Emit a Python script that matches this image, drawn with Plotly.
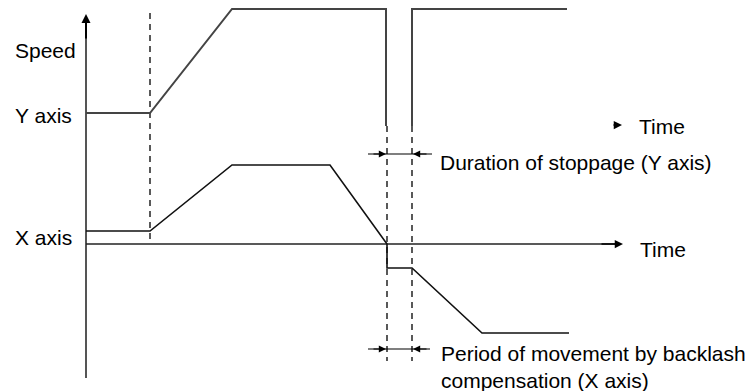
import plotly.graph_objects as go

# Diagram coordinates (time units horizontally, speed levels vertically; y grows downward)
y_profile_t = [86, 150, 232, 386, 386, None, 412, 412, 567]
y_profile_v = [113, 113, 9, 9, 126, None, 126, 9, 9]

x_profile_t = [86, 150, 232, 330, 387, 387, 412, 482, 569]
x_profile_v = [231, 231, 165, 165, 244, 268, 268, 333, 333]

# Event markers (dashed guides): time, start level, end level
guide_t = [150, 387, 412]
guide_top = [13, 126, 126]
guide_bottom = [243, 361, 361]

labels = ["Speed", "Y axis", "X axis"]
label_y = [50, 115, 237]

time_label = "Time"
stop_label = "Duration of stoppage (Y axis)"
backlash_label = "Period of movement by backlash<br>compensation (X axis)"

FONT = dict(family="Liberation Sans, Arial, sans-serif", size=21, color="black")

fig = go.Figure()

# dashed guides
gx, gy = [], []
for t, a, b in zip(guide_t, guide_top, guide_bottom):
    gx += [t, t, None]
    gy += [a, b, None]
fig.add_trace(go.Scatter(x=gx, y=gy, mode="lines",
                         line=dict(color="black", width=1.3, dash="6px,5px"),
                         hoverinfo="skip"))

# speed axis & X time axis
fig.add_trace(go.Scatter(x=[86, 86], y=[378, 20], mode="lines",
                         line=dict(color="#555555", width=2), hoverinfo="skip"))
fig.add_trace(go.Scatter(x=[86, 615], y=[244, 244], mode="lines",
                         line=dict(color="#222222", width=1.5), hoverinfo="skip"))

# Y profile
fig.add_trace(go.Scatter(x=y_profile_t, y=y_profile_v, mode="lines",
                         line=dict(color="#444444", width=2), hoverinfo="skip"))
# X profile
fig.add_trace(go.Scatter(x=x_profile_t, y=x_profile_v, mode="lines",
                         line=dict(color="#111111", width=1.6), hoverinfo="skip"))

# dimension lines
fig.add_trace(go.Scatter(x=[368, 432, None, 368, 430], y=[154, 154, None, 349, 349],
                         mode="lines", line=dict(color="black", width=1.2),
                         hoverinfo="skip"))

anns = []
def arrow(hx, hy, tx, ty, w=1.2, size=1.2):
    anns.append(dict(x=hx, y=hy, ax=tx, ay=ty, xref="x", yref="y", axref="x", ayref="y",
                     showarrow=True, arrowhead=2, arrowsize=size, arrowwidth=w,
                     arrowcolor="black", text=""))

arrow(86, 14, 86, 40, w=2, size=0.9)          # speed axis arrow
arrow(623, 244, 600, 244, w=1.5, size=1.1)    # X time arrow
arrow(622, 125, 612, 125, w=1.5, size=1.1)    # Y time arrow
arrow(386, 154, 372, 154)
arrow(413, 154, 428, 154)
arrow(386, 349, 372, 349)
arrow(413, 349, 428, 349)

for txt, yy in zip(labels, label_y):
    anns.append(dict(x=13, y=yy, xref="x", yref="y", text=txt, showarrow=False,
                     xanchor="left", yanchor="middle", font=FONT))
anns.append(dict(x=637, y=126, xref="x", yref="y", text=time_label, showarrow=False,
                 xanchor="left", yanchor="middle", font=FONT))
anns.append(dict(x=638, y=249, xref="x", yref="y", text=time_label, showarrow=False,
                 xanchor="left", yanchor="middle", font=FONT))
anns.append(dict(x=438, y=162, xref="x", yref="y", text=stop_label, showarrow=False,
                 xanchor="left", yanchor="middle", font=FONT))
anns.append(dict(x=439, y=367, xref="x", yref="y", text=backlash_label, showarrow=False,
                 xanchor="left", yanchor="middle", align="left", font=FONT))

fig.update_layout(
    width=752, height=391,
    margin=dict(l=0, r=0, t=0, b=0),
    paper_bgcolor="white", plot_bgcolor="white",
    showlegend=False,
    xaxis=dict(range=[0, 752], visible=False, fixedrange=True),
    yaxis=dict(range=[391, 0], visible=False, fixedrange=True),
    annotations=anns,
)

fig.write_html("out.html", config={"displayModeBar": False},
               post_script="document.body.style.margin='0';document.body.style.overflow='hidden';")
